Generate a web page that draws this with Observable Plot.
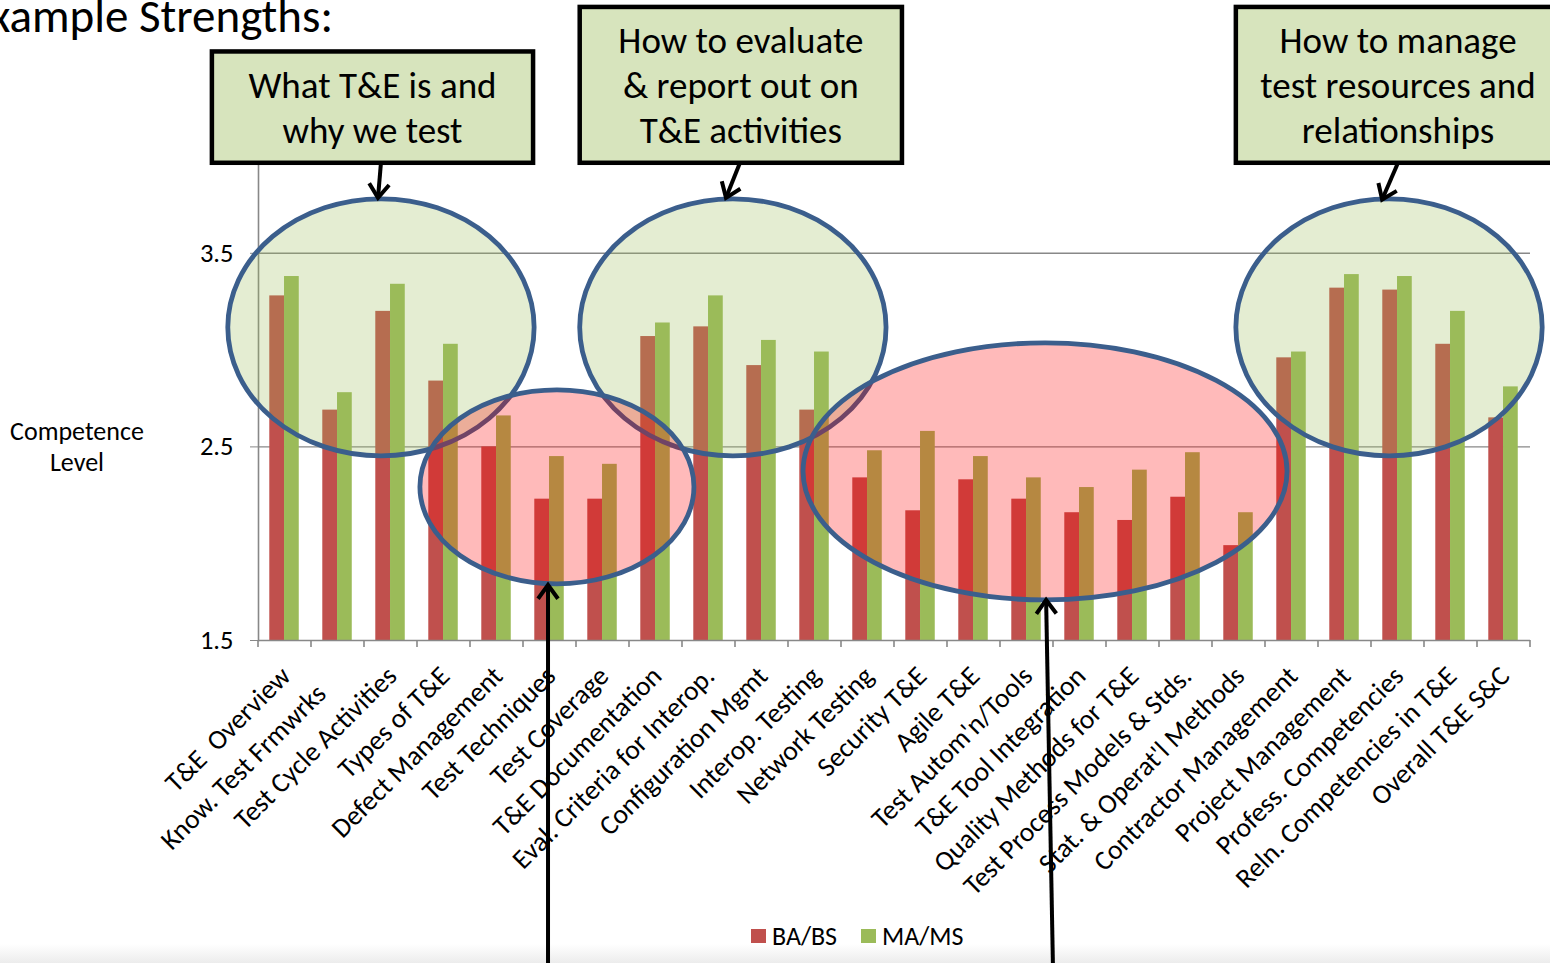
<!DOCTYPE html>
<html><head><meta charset="utf-8">
<script src="https://cdn.jsdelivr.net/npm/d3@7"></script>
<script src="https://cdn.jsdelivr.net/npm/@observablehq/plot@0.6"></script>
<style>
html,body{margin:0;padding:0;background:#fff;overflow:hidden}
#chart{position:relative;width:1550px;height:963px}
</style></head><body><div id="chart"></div>
<script>
// ---------- data ----------
const categories = ["T&E\u00a0 Overview","Know. Test Frmwrks\u00a0\u00a0\u00a0\u00a0","Test Cycle Activities","Types of T&E","Defect Management","Test Techniques","Test Coverage","T&E Documentation","Eval. Criteria for Interop.","Configuration Mgmt","Interop. Testing","Network Testing","Security T&E","Agile T&E","Test Autom'n/Tools","T&E Tool Integration","Quality Methods for T&E","Test Process Models & Stds.","Stat. & Operat'l Methods","Contractor Management","Project Management","Profess. Competencies","Reln. Competencies in T&E","Overall T&E S&C"];
const baValues = [3.28,2.69,3.20,2.84,2.50,2.23,2.23,3.07,3.12,2.92,2.69,2.34,2.17,2.33,2.23,2.16,2.12,2.24,1.99,2.96,3.32,3.31,3.03,2.65];
const maValues = [3.38,2.78,3.34,3.03,2.66,2.45,2.41,3.14,3.28,3.05,2.99,2.48,2.58,2.45,2.34,2.29,2.38,2.47,2.16,2.99,3.39,3.38,3.20,2.81];
const seriesNames = ["BA/BS","MA/MS"];
const seriesColors = ["#c0504d","#9bbb59"];
const yTicks = [1.5,2.5,3.5];
const yDomain = [1.5,4.0];
const titleText = "Example Strengths:";
const yLabelLines = ["Competence","Level"];
const calloutTexts = [["What T&E is and","why we test"],["How to evaluate","& report out on","T&E activities"],["How to manage","test resources and","relationships"]];

// annotation geometry, in band units (u) and competence values (v)
const callouts = [
  {u0:-0.87, u1:5.19, v0:3.965, v1:4.54},
  {u0:6.07, u1:12.15, v0:3.965, v1:4.77},
  {u0:18.45, u1:24.57, v0:3.965, v1:4.77}
];
const ellipses = [
  {kind:"good", cu:2.32, ru:2.89, cv:3.115, rv:0.664},
  {kind:"good", cu:8.96, ru:2.89, cv:3.115, rv:0.664},
  {kind:"good", cu:21.34, ru:2.89, cv:3.115, rv:0.664},
  {kind:"weak", cu:5.64, ru:2.585, cv:2.291, rv:0.501},
  {kind:"weak", cu:14.85, ru:4.566, cv:2.371, rv:0.664}
];
const arrows = [
  {from:[2.32,3.965], to:[2.264,3.784]},
  {from:[9.094,3.965], to:[8.83,3.784]},
  {from:[21.51,3.965], to:[21.21,3.775]},
  {from:[5.472,-0.2], to:[5.472,1.784]},
  {from:[15.0,-0.2], to:[14.87,1.707]}
];

// ---------- plot ----------
const W = 1550, H = 963;
const mL = 258, mR = 20, mT = 156, mB = 323;
const FONT = "Carlito, Lato, 'Open Sans', sans-serif";
const step = (W - mL - mR) / categories.length;
const barW = step * 0.278;
const gap = step * 0.213;
const data = categories.map((c, i) => ({cat: c, ba: baValues[i], ma: maValues[i]}));
const base = () => yDomain[0];

const plot = Plot.plot({
  width: W, height: H,
  marginLeft: mL, marginRight: mR, marginTop: mT, marginBottom: mB,
  style: {fontFamily: FONT, background: "transparent", overflow: "visible"},
  x: {domain: categories, padding: 0, axis: null},
  y: {domain: yDomain, axis: null},
  marks: [
    Plot.ruleY(yTicks.slice(1), {stroke: "#888", strokeWidth: 1.4}),
    Plot.barY(data, {x: "cat", y1: base, y2: "ba", fill: seriesColors[0], insetLeft: gap, insetRight: step - gap - barW}),
    Plot.barY(data, {x: "cat", y1: base, y2: "ma", fill: seriesColors[1], insetLeft: gap + barW, insetRight: step - gap - 2 * barW}),
    Plot.ruleY([yDomain[0]], {stroke: "#888", strokeWidth: 1.6}),
    Plot.frame({anchor: "left", stroke: "#888", strokeWidth: 1.6}),
    Plot.axisY({ticks: yTicks, tickSize: 8, tickPadding: 17, tickFormat: d => d.toFixed(1), fontSize: 26.5, stroke: "#888", fill: "#000", label: null}),
    Plot.text(categories, {x: d => d, y: base, rotate: -45, textAnchor: "end", lineAnchor: "middle", dx: 1, dy: 31, fontSize: 27.5, fill: "#000"})
  ]
});
document.getElementById("chart").appendChild(plot);

// ---------- annotations via scales ----------
const svg = d3.select(plot);
const xs = plot.scale("x"), ys = plot.scale("y");
const x0 = xs.range[0];
const px = u => x0 + u * step;
const py = v => ys.apply(v);

// band boundary ticks
const tg = svg.append("g");
for (let i = 0; i <= categories.length; i++) {
  const xx = i < categories.length ? xs.apply(categories[i]) : xs.apply(categories[i-1]) + xs.bandwidth;
  tg.append("line").attr("x1", xx).attr("x2", xx).attr("y1", py(yDomain[0])).attr("y2", py(yDomain[0]) + 7)
    .attr("stroke", "#888").attr("stroke-width", 1.6);
}

// bottom grey fade
const defs = svg.append("defs");
const grad = defs.append("linearGradient").attr("id", "fade").attr("x1", 0).attr("x2", 0).attr("y1", 0).attr("y2", 1);
grad.append("stop").attr("offset", "0%").attr("stop-color", "#fff");
grad.append("stop").attr("offset", "100%").attr("stop-color", "#ececec");
svg.insert("rect", ":first-child").attr("x", 0).attr("y", 944).attr("width", W).attr("height", 19).attr("fill", "url(#fade)");

// ellipses
const eg = svg.append("g");
ellipses.forEach(e => {
  eg.append("ellipse")
    .attr("cx", px(e.cu)).attr("cy", py(e.cv))
    .attr("rx", e.ru * step).attr("ry", Math.abs(py(e.cv + e.rv) - py(e.cv)))
    .attr("fill", e.kind === "good" ? "#9bbb59" : "#ff0000")
    .attr("fill-opacity", 0.27)
    .attr("stroke", "#3b5e8c").attr("stroke-width", 4.8);
});

// arrows
const ag = svg.append("g").attr("stroke", "#000").attr("fill", "none").attr("stroke-width", 4).attr("stroke-linecap", "butt").attr("stroke-linejoin", "miter");
arrows.forEach(a => {
  const [xA, yA] = [px(a.from[0]), py(a.from[1])];
  const [xB, yB] = [px(a.to[0]), py(a.to[1])];
  ag.append("line").attr("x1", xA).attr("y1", yA).attr("x2", xB).attr("y2", yB);
  const ang = Math.atan2(yB - yA, xB - xA);
  const L = 17, sp = Math.PI / 5;
  const p1 = [xB - L * Math.cos(ang - sp), yB - L * Math.sin(ang - sp)];
  const p2 = [xB - L * Math.cos(ang + sp), yB - L * Math.sin(ang + sp)];
  ag.append("path").attr("d", `M${p1[0]},${p1[1]}L${xB},${yB}L${p2[0]},${p2[1]}`);
});

// callout boxes
const bg = svg.append("g");
callouts.forEach((c, i) => {
  const xa = px(c.u0), xb = px(c.u1), ya = py(c.v1), yb = py(c.v0);
  bg.append("rect").attr("x", xa).attr("y", ya).attr("width", xb - xa).attr("height", yb - ya)
    .attr("fill", "#d7e4bd").attr("stroke", "#000").attr("stroke-width", 4.5);
  const lines = calloutTexts[i];
  const cx = (xa + xb) / 2, cy = (ya + yb) / 2, lh = 45;
  lines.forEach((t, j) => {
    bg.append("text").attr("x", cx).attr("y", cy + (j - (lines.length - 1) / 2) * lh)
      .attr("dy", "0.35em").attr("text-anchor", "middle")
      .attr("font-family", FONT).attr("font-size", 37).attr("fill", "#000").text(t);
  });
});

// title
svg.append("text").attr("x", 333).attr("y", 32).attr("text-anchor", "end")
  .attr("font-family", FONT).attr("font-size", 47).attr("fill", "#000").text(titleText);

// y label
yLabelLines.forEach((t, j) => {
  svg.append("text").attr("x", 77).attr("y", 431 + j * 31).attr("dy", "0.35em").attr("text-anchor", "middle")
    .attr("font-family", FONT).attr("font-size", 26).attr("fill", "#000").text(t);
});

// legend
const lg = svg.append("g").attr("font-family", FONT).attr("font-size", 26).attr("text-anchor", "start");
const legX = [751, 861];
seriesNames.forEach((s, i) => {
  lg.append("rect").attr("x", legX[i]).attr("y", 929).attr("width", 15).attr("height", 14).attr("fill", seriesColors[i]);
  lg.append("text").attr("x", legX[i] + 21).attr("y", 936).attr("dy", "0.35em").attr("text-anchor", "start").attr("fill", "#000").text(s);
});
</script>
</body></html>
